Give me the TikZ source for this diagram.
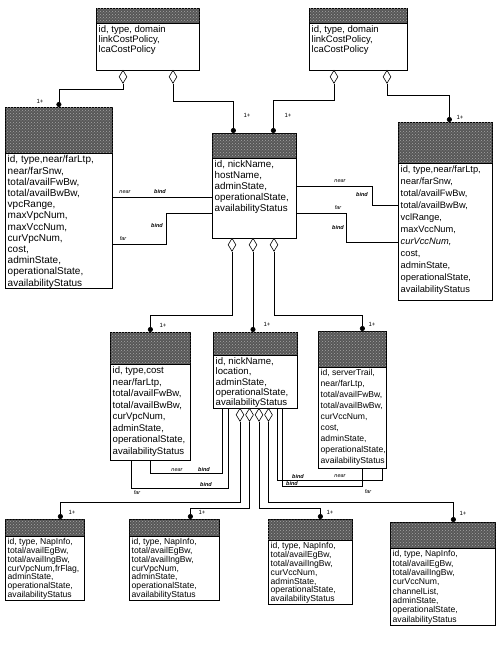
\documentclass[tikz,border=0pt]{standalone}
\usepackage{fontspec}
\setmainfont{Liberation Sans}
\usetikzlibrary{shapes.geometric,arrows.meta,calc,patterns}
\tikzset{
  hdr/.style={draw=black, line width=0.8pt, fill=black!66, inner sep=0pt, anchor=north west,
    postaction={pattern=crosshatch dots, pattern color=black!35}},
  bodybox/.style={draw=black, line width=0.6pt, fill=white, inner sep=0pt, anchor=north west},
  agg/.style={diamond, draw=black, fill=white, line width=0.6pt, minimum width=8pt, minimum height=13pt, inner sep=0pt, anchor=north},
  conn/.style={draw=black, line width=0.6pt},
  tgt/.style={conn, -{Circle[length=5pt,width=5pt]}},
  lbl/.style={font=\fontsize{5.5}{6}\selectfont\itshape, inner sep=0.5pt},
  bindl/.style={font=\fontsize{5.5}{6}\selectfont\bfseries\itshape, inner sep=0.5pt},
  mult/.style={font=\fontsize{6}{7}\selectfont, inner sep=0.5pt},
  btxt/.style={anchor=north west, inner sep=0pt, align=left},
}
% name, x1, y1, x2, yh, y2, fontsize, skip, text
\newcommand\umlbox[9]{%
  \node[hdr, minimum width={#4pt-#2pt}, minimum height={#5pt-#3pt}] (#1h) at (#2,#3) {};
  \node[bodybox, minimum width={#4pt-#2pt}, minimum height={#6pt-#5pt}] (#1) at (#2,#5) {};
  \node[btxt, font=\fontsize{#7}{#8}\selectfont] (#1t) at (#2+2.5,#5+2.5) {#9};
}
\begin{document}
\begin{tikzpicture}[x=1pt,y=-1pt]
\useasboundingbox (0,0) rectangle (501,646);
\fill[white] (0,0) rectangle (501,646);

% ---------- boxes ----------
\umlbox{TA}{96}{8}{199}{23}{70}{9.5}{10}{id, type, domain\\linkCostPolicy,\\lcaCostPolicy}
\umlbox{TB}{309}{8}{407}{23}{70}{9.5}{10}{id, type, domain\\linkCostPolicy,\\lcaCostPolicy}
\umlbox{L}{5}{107}{112}{153}{288}{10}{11.2}{id, type,near/farLtp,\\near/farSnw,\\total/availFwBw,\\total/availBwBw,\\vpcRange,\\maxVpcNum,\\maxVccNum,\\curVpcNum,\\cost,\\adminState,\\operationalState,\\availabilityStatus}
\umlbox{C}{212}{133}{296}{158}{238}{9.8}{10.8}{id, nickName,\\hostName,\\adminState,\\operationalState,\\availabilityStatus}
\umlbox{R}{398}{122}{492}{163}{300}{9.3}{12}{id, type,near/farLtp,\\near/farSnw,\\total/availFwBw,\\total/availBwBw,\\vclRange,\\maxVccNum,\\\textit{curVccNum,}\\cost,\\adminState,\\operationalState,\\availabilityStatus}
\umlbox{ML}{110}{332}{190}{364}{460}{9.6}{11.5}{id, type,cost\\near/farLtp,\\total/availFwBw,\\total/availBwBw,\\curVpcNum,\\adminState,\\operationalState,\\availabilityStatus}
\umlbox{MM}{213}{332}{297}{355}{408}{9.6}{10.3}{id, nickName,\\location,\\adminState,\\operationalState,\\availabilityStatus}
\umlbox{MR}{318}{331}{386}{367}{468}{8.6}{11}{id, serverTrail,\\near/farLtp,\\total/availFwBw,\\total/availBwBw,\\curVccNum,\\cost,\\adminState,\\operationalState,\\availabilityStatus}
\umlbox{BA}{5}{519}{84}{536}{600}{8.6}{8.7}{id, type, NapInfo,\\total/availEgBw,\\total/availIngBw,\\curVpcNum,frFlag,\\adminState,\\operationalState,\\availabilityStatus}
\umlbox{BB}{129}{519}{219}{536}{600}{8.6}{8.7}{id, type, NapInfo,\\total/availEgBw,\\total/availIngBw,\\curVpcNum,\\adminState,\\operationalState,\\availabilityStatus}
\umlbox{BC}{268}{519}{352}{540}{604}{8.6}{8.8}{id, type, NapInfo,\\total/availEgBw,\\total/availIngBw,\\curVccNum,\\adminState,\\operationalState,\\availabilityStatus}
\umlbox{BD}{390}{522}{495}{548}{625}{8.6}{9.3}{id, type, NapInfo,\\total/availEgBw,\\total/availIngBw,\\curVccNum,\\channelList,\\adminState,\\operationalState,\\availabilityStatus}

% ---------- aggregation diamonds ----------
\node[agg] (TAa) at (123,70) {};
\node[agg] (TAb) at (173,70) {};
\node[agg] (TBa) at (334,70) {};
\node[agg] (TBb) at (387,70) {};
\node[agg] (Ca) at (232,238) {};
\node[agg] (Cb) at (253,238) {};
\node[agg] (Cc) at (274,238) {};
\node[agg] (Ma) at (240,408) {};
\node[agg] (Mb) at (249.5,408) {};
\node[agg] (Mc) at (259,408) {};
\node[agg] (Md) at (268.5,408) {};

% ---------- aggregation connectors ----------
\draw[tgt] (TAa.south) -- ++(0,6) -| (Lh.north);
\draw[tgt] (TAb.south) -- ++(0,18) -| ([xshift=-21pt]Ch.north);
\draw[tgt] (TBa.south) -- ++(0,17) -| ([xshift=19pt]Ch.north);
\draw[tgt] (TBb.south) -- ++(0,12) -| ([xshift=4pt]Rh.north);
\draw[tgt] (Ca.south) -- ++(0,64) -| (MLh.north);
\draw[tgt, line width=1pt] (Cb.south) -- (Cb.south |- MMh.north);
\draw[tgt] (Cc.south) -- ++(0,64) -| ([xshift=10pt]MRh.north);
\draw[tgt] (Ma.south) -- ++(0,81) -| ([xshift=15.5pt]BAh.north);
\draw[tgt] (Mb.south) -- ++(0,87) -| ([xshift=16pt]BBh.north);
\draw[tgt] (Mc.south) -- ++(0,87) -| ([xshift=10pt]BCh.north);
\draw[tgt] (Md.south) -- ++(0,81) -| ([xshift=10.5pt]BDh.north);

% multiplicities
\node[mult] at (40,101) {1+};
\node[mult] at (247,115) {1+};
\node[mult] at (288,115) {1+};
\node[mult] at (460,117) {1+};
\node[mult] at (163,325) {1+};
\node[mult] at (267,324) {1+};
\node[mult] at (372,324) {1+};
\node[mult] at (72,512) {1+};
\node[mult] at (202,512) {1+};
\node[mult] at (330,512) {1+};
\node[mult] at (463,513) {1+};

% ---------- near / far bindings ----------
\draw[conn] ($(L.north east)+(0,44)$) coordinate (lcn) -- (lcn -| C.west);
\draw[conn] ($(L.north east)+(0,91)$) -- ++(54,0) |- ($(C.north west)+(0,55)$);
\draw[conn] ($(C.north east)+(0,28)$) -- ++(76,0) |- ($(R.north west)+(0,42)$);
\draw[conn] ($(C.north east)+(0,55)$) -- ++(50,0) |- ($(R.north west)+(0,79)$);
\node[lbl] at (125,192) {near};
\node[bindl] at (160,192) {bind};
\node[lbl] at (123,239) {far};
\node[bindl] at (157,226) {bind};
\node[lbl] at (340,181) {near};
\node[bindl] at (362,195) {bind};
\node[lbl] at (338,208) {far};
\node[bindl] at (338,228) {bind};

\draw[conn] ($(ML.south west)+(40,0)$) -- ++(0,13) -| ($(MM.south west)+(9,0)$);
\draw[conn] ($(ML.south west)+(21,0)$) -- ++(0,28) -| ($(MM.south west)+(15,0)$);
\draw[conn] ($(MM.south west)+(64,0)$) -- ++(0,72) -| ($(MR.south west)+(64,0)$);
\draw[conn] ($(MM.south west)+(69,0)$) -- ++(0,78) -| ($(MR.south west)+(44,0)$);
\node[lbl] at (177,470) {near};
\node[bindl] at (204,470) {bind};
\node[bindl] at (206,484.5) {bind};
\node[lbl] at (137,493) {far};
\node[bindl] at (298,476.5) {bind};
\node[lbl] at (340,476.5) {near};
\node[bindl] at (292,483.2) {bind};
\node[lbl] at (368,492) {far};
\end{tikzpicture}
\end{document}
